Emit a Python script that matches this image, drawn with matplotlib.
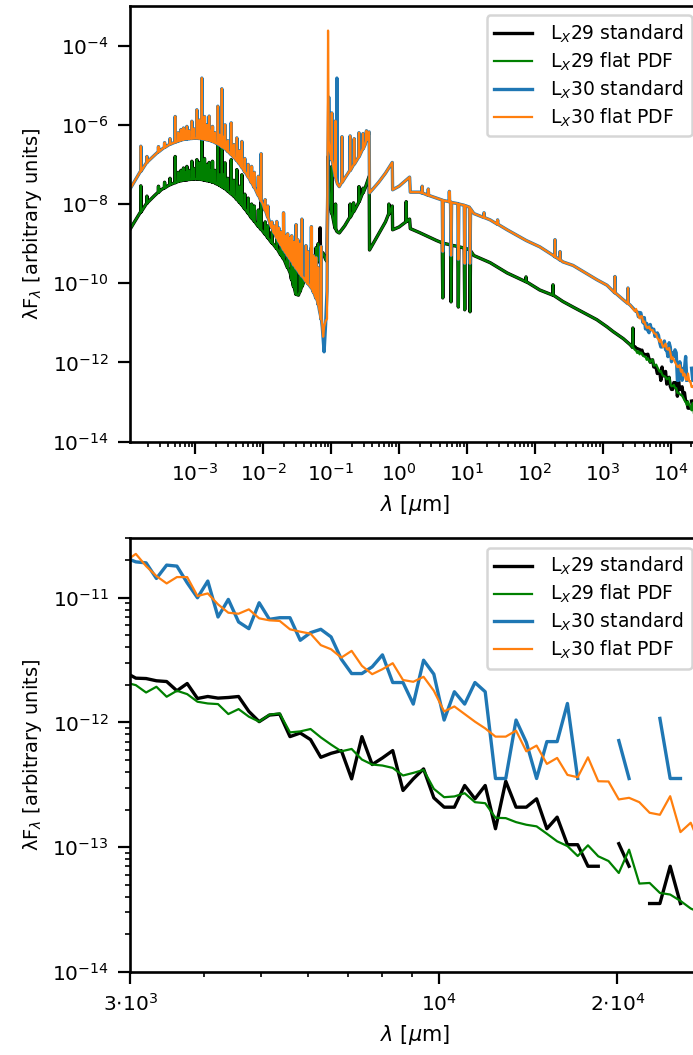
import numpy as np
import matplotlib
matplotlib.use("Agg")
import matplotlib.pyplot as plt
from matplotlib.ticker import (FixedLocator, FixedFormatter,
                               NullLocator, NullFormatter, LogFormatterSciNotation)

# ---------------- data: top panel (log10 lambda [um], log10 lambda F) ----------
top_loglam = [
    -3.959, -3.90, -3.80, -3.70, -3.60, -3.50, -3.40, -3.30, -3.20, -3.10,
    -3.00, -2.90, -2.80, -2.70, -2.60, -2.50, -2.40, -2.30, -2.20, -2.10,
    -2.00, -1.90, -1.80, -1.70, -1.60, -1.52, -1.48, -1.40, -1.30, -1.24,
    -1.20, -1.17, -1.162, -1.155, -1.13, -1.117, -1.103, -1.08, -1.06, -1.045,
    -1.035, -1.02, -1.00, -0.95, -0.92, -0.915, -0.91, -0.88, -0.80, -0.70,
    -0.60, -0.50, -0.44, -0.435, -0.30, -0.20, -0.10, -0.095, 0.00, 0.10,
    0.155, 0.165, 0.30, 0.40, 0.55, 0.635, 0.643, 0.651, 0.757, 0.765,
    0.773, 0.864, 0.872, 0.880, 0.958, 0.966, 0.974, 1.036, 1.044, 1.052,
    1.10, 1.34, 1.59, 1.87, 2.07, 2.27, 2.41, 2.56, 2.91, 3.06,
    3.15, 3.30, 3.40]

top_lx30_flat = [
    -7.62, -7.45, -7.17, -6.93, -6.77, -6.63, -6.52, -6.44, -6.38, -6.35,
    -6.34, -6.35, -6.39, -6.46, -6.56, -6.70, -6.88, -7.10, -7.37, -7.68,
    -8.02, -8.50, -8.85, -9.15, -9.40, -9.60, -9.70, -9.88, -10.10, -10.30,
    -10.45, -10.70, -10.76, -10.82, -11.05, -11.35, -11.10, -10.95, -10.90, -3.62,
    -6.40, -6.65, -6.80, -7.20, -7.42, -7.45, -7.48, -7.56, -7.35, -7.10,
    -6.83, -6.50, -6.18, -7.72, -7.45, -7.22, -6.95, -7.64, -7.55, -7.40,
    -7.32, -7.70, -7.70, -7.76, -7.85, -7.90, -9.20, -7.91, -7.95, -9.30,
    -7.96, -7.99, -9.40, -8.00, -8.03, -9.50, -8.04, -8.08, -9.50, -8.12,
    -8.24, -8.40, -8.65, -8.92, -9.08, -9.30, -9.46, -9.55, -9.91, -10.05,
    -10.20, -10.42, -10.55]

top_lx30_std = [
    -7.62, -7.45, -7.17, -6.93, -6.77, -6.63, -6.52, -6.44, -6.38, -6.35,
    -6.34, -6.35, -6.39, -6.46, -6.56, -6.70, -6.88, -7.10, -7.37, -7.68,
    -8.02, -8.50, -8.85, -9.15, -9.40, -9.60, -9.70, -9.88, -10.10, -10.30,
    -10.45, -10.70, -10.76, -10.82, -11.10, -11.40, -11.73, -11.00, -10.20, -6.75,
    -5.30, -6.65, -6.80, -7.20, -7.42, -4.82, -7.48, -7.56, -7.35, -7.10,
    -6.83, -6.50, -6.18, -7.72, -7.45, -7.22, -6.95, -7.64, -7.55, -7.40,
    -7.32, -7.70, -7.70, -7.76, -7.85, -7.90, -9.20, -7.91, -7.95, -9.30,
    -7.96, -7.99, -9.40, -8.00, -8.03, -9.50, -8.04, -8.08, -9.50, -8.12,
    -8.24, -8.40, -8.65, -8.92, -9.08, -9.30, -9.46, -9.55, -9.91, -10.05,
    -10.20, -10.42, -10.55]

top_lx29_flat = [
    -8.64, -8.47, -8.20, -7.96, -7.79, -7.64, -7.54, -7.46, -7.41, -7.38,
    -7.37, -7.38, -7.42, -7.48, -7.57, -7.70, -7.86, -8.05, -8.28, -8.50,
    -8.70, -8.92, -9.12, -9.38, -9.75, -10.28, -10.30, -9.95, -9.72, -9.58,
    -9.45, -9.33, -9.30, -9.28, -9.24, -9.24, -9.30, -9.40, -9.45, -6.80,
    -7.60, -7.90, -8.15, -8.55, -8.68, -8.69, -8.70, -8.73, -8.55, -8.28,
    -7.98, -7.60, -7.30, -9.16, -8.75, -8.45, -8.05, -8.65, -8.58, -8.45,
    -8.38, -8.62, -8.72, -8.80, -8.92, -8.98, -10.37, -8.99, -9.03, -10.47,
    -9.04, -9.07, -10.60, -9.08, -9.11, -10.67, -9.12, -9.15, -10.72, -9.18,
    -9.30, -9.48, -9.74, -9.96, -10.17, -10.30, -10.46, -10.60, -10.92, -11.10,
    -11.22, -11.40, -11.55]

top_lx29_std = [
    -8.64, -8.47, -8.20, -7.96, -7.79, -7.64, -7.54, -7.46, -7.41, -7.38,
    -7.37, -7.38, -7.42, -7.48, -7.57, -7.70, -7.86, -8.05, -8.28, -8.50,
    -8.70, -8.92, -9.12, -9.38, -9.75, -10.28, -10.30, -9.95, -9.72, -9.58,
    -9.45, -9.35, -8.60, -9.25, -9.22, -9.24, -9.30, -9.40, -9.45, -6.80,
    -7.60, -7.90, -8.15, -8.55, -8.68, -8.69, -8.70, -8.73, -8.55, -8.28,
    -7.98, -7.60, -7.30, -9.16, -8.75, -8.45, -8.05, -8.65, -8.58, -8.45,
    -8.38, -8.62, -8.72, -8.80, -8.92, -8.98, -10.37, -8.99, -9.03, -10.47,
    -9.04, -9.07, -10.60, -9.08, -9.11, -10.67, -9.12, -9.15, -10.72, -9.18,
    -9.30, -9.48, -9.74, -9.96, -10.17, -10.30, -10.46, -10.60, -10.92, -11.10,
    -11.22, -11.40, -11.55]

# emission lines (log10 lambda, log10 base, log10 peak)
lines30_loglam = [
    -3.80, -3.71, -3.54, -3.45, -3.37, -3.294, -3.25, -3.21, -3.172, -3.145,
    -3.122, -3.09, -3.049, -3.02, -2.975, -2.94, -2.902, -2.88, -2.863, -2.828,
    -2.794, -2.77, -2.745, -2.71, -2.667, -2.64, -2.608, -2.58, -2.56, -2.52,
    -2.47, -2.43, -2.387, -2.35, -2.313, -2.27, -2.22, -2.17, -2.13, -2.07,
    -2.03, -1.97, -1.93, -1.87, -1.84, -1.80, -1.77, -1.74, -1.70, -1.67,
    -1.64, -1.61, -1.58, -1.55, -1.515, -1.49, -1.46, -1.43, -1.37, -1.34,
    -1.29, -1.26, -1.22, -1.19, -1.147, -0.99, -0.935, -0.84, -0.72, -0.66,
    -0.59, -0.53, -0.48, 0.34, 0.43, 0.74, 1.25, 1.45, 2.294, 2.368,
    3.176, 3.368]
lines30_base = [
    -7.17, -6.95, -6.68, -6.57, -6.49, -6.44, -6.41, -6.39, -6.37, -6.36,
    -6.36, -6.35, -6.345, -6.34, -6.34, -6.345, -6.35, -6.36, -6.365, -6.375,
    -6.39, -6.40, -6.42, -6.44, -6.48, -6.51, -6.55, -6.58, -6.60, -6.67,
    -6.75, -6.82, -6.90, -6.98, -7.07, -7.18, -7.31, -7.46, -7.58, -7.78,
    -7.92, -8.16, -8.33, -8.60, -8.72, -8.85, -8.94, -9.03, -9.15, -9.22,
    -9.30, -9.37, -9.44, -9.54, -9.62, -9.67, -9.75, -9.82, -9.95, -10.01,
    -10.11, -10.22, -10.38, -10.53, -10.90, -6.88, -7.31, -7.45, -7.15, -6.99,
    -6.80, -6.60, -6.39, -7.72, -7.78, -7.94, -8.34, -8.51, -9.33, -9.41,
    -10.24, -10.51]
lines30_peak = [
    -6.54, -6.80, -6.55, -6.45, -6.35, -5.79, -6.20, -6.12, -6.08, -6.15,
    -6.04, -6.15, -5.91, -6.10, -5.62, -5.88, -4.82, -6.05, -5.79, -6.00,
    -5.78, -6.15, -6.04, -6.20, -5.53, -6.25, -5.09, -6.30, -6.00, -6.40,
    -5.95, -6.50, -6.33, -6.65, -6.42, -6.85, -7.00, -7.05, -7.20, -7.30,
    -6.73, -7.89, -8.05, -8.45, -8.55, -8.44, -8.60, -8.70, -8.22, -8.80,
    -8.75, -8.85, -8.80, -8.95, -8.52, -8.90, -9.00, -8.38, -9.05, -9.20,
    -8.57, -9.30, -9.35, -9.60, -9.07, -5.70, -5.90, -6.30, -6.28, -6.35,
    -6.20, -6.22, -6.15, -7.55, -7.62, -7.68, -8.22, -8.40, -8.90, -9.20,
    -9.83, -10.12]

lines29_loglam = [
    -3.80, -3.71, -3.54, -3.45, -3.37, -3.294, -3.25, -3.21, -3.172, -3.145,
    -3.122, -3.09, -3.049, -3.02, -2.975, -2.94, -2.902, -2.88, -2.863, -2.828,
    -2.794, -2.77, -2.745, -2.71, -2.667, -2.64, -2.608, -2.58, -2.56, -2.52,
    -2.47, -2.43, -2.387, -2.35, -2.313, -2.27, -2.22, -2.17, -2.13, -2.07,
    -2.03, -1.97, -1.93, -1.87, -1.80, -1.74, -1.70, -1.64, -1.58, -1.55,
    -1.515, -1.46, -1.43, -1.37, -1.29, -1.22, -1.19, -0.99, -0.935, -0.72,
    -0.67, -0.59, -0.53, -0.15, 0.105, 1.868, 2.265, 3.44]
lines29_base = [
    -8.20, -7.98, -7.70, -7.59, -7.51, -7.46, -7.43, -7.41, -7.40, -7.39,
    -7.39, -7.38, -7.375, -7.37, -7.37, -7.375, -7.38, -7.39, -7.395, -7.41,
    -7.42, -7.43, -7.45, -7.46, -7.50, -7.53, -7.56, -7.59, -7.61, -7.67,
    -7.74, -7.80, -7.88, -7.95, -8.02, -8.12, -8.23, -8.35, -8.43, -8.56,
    -8.64, -8.76, -8.85, -8.98, -9.12, -9.28, -9.38, -9.60, -9.90, -10.08,
    -10.28, -10.21, -10.08, -9.88, -9.70, -9.52, -9.41, -8.23, -8.62, -8.33,
    -8.19, -7.94, -7.71, -8.25, -8.44, -9.96, -10.30, -11.62]
lines29_peak = [
    -7.54, -7.80, -7.55, -7.45, -7.35, -6.80, -7.20, -7.15, -7.09, -7.20,
    -7.05, -7.15, -6.92, -7.10, -6.88, -6.95, -6.38, -7.10, -6.85, -7.00,
    -6.95, -7.15, -6.92, -7.15, -6.53, -7.25, -6.50, -7.25, -6.96, -7.35,
    -6.88, -7.40, -7.13, -7.55, -7.26, -7.75, -7.85, -8.00, -8.05, -8.15,
    -7.89, -8.45, -8.55, -8.70, -8.80, -8.85, -8.75, -9.10, -9.20, -9.30,
    -9.20, -9.40, -9.20, -9.30, -9.10, -9.10, -9.00, -7.05, -8.00, -8.00,
    -7.97, -7.56, -7.60, -8.00, -7.94, -9.84, -10.04, -11.13]

# ---------------- data: bottom panel (lambda [um], log10 lambda F) -------------
bot_lam = [2949, 3069, 3194, 3325, 3460, 3601, 3748, 3901, 4061, 4226,
           4399, 4578, 4765, 4960, 5162, 5373, 5592, 5820, 6058, 6305,
           6562, 6830, 7109, 7399, 7701, 8015, 8342, 8683, 9037, 9406,
           9790, 10190, 10605, 11038, 11489, 11957, 12445, 12953, 13482, 14032,
           14605, 15201, 15821, 16467, 17139, 17838, 18566, 19324, 20112, 20933,
           21787, 22677, 23602, 24565, 25568, 26611, 27697]
nan = np.nan
bot_lx29_std = [
    -11.60, -11.645, -11.648, -11.666, -11.672, -11.746, -11.688, -11.808, -11.792, -11.805,
    -11.80, -11.792, -11.912, -11.994, -11.941, -11.933, -12.114, -12.085, -12.138, -12.28,
    -12.248, -12.226, -12.453, -12.114, -12.338, -12.285, -12.226, -12.546, -12.453, -12.373,
    -12.605, -12.68, -12.68, -12.506, -12.613, -12.506, -12.853, -12.472, -12.68, -12.68,
    -12.613, -12.853, -12.76, -12.981, -12.981, -13.154, -13.154, nan, -12.973, -13.154,
    nan, -13.453, -13.453, -13.154, -13.453, nan, nan]
bot_lx29_flat = [
    -11.68, -11.701, -11.76, -11.714, -11.794, -11.746, -11.773, -11.834, -11.848, -11.853,
    -11.933, -11.893, -11.954, -11.994, -11.938, -11.928, -12.08, -12.072, -12.053, -12.12,
    -12.178, -12.232, -12.213, -12.298, -12.338, -12.346, -12.365, -12.426, -12.405, -12.381,
    -12.533, -12.60, -12.594, -12.568, -12.64, -12.648, -12.765, -12.768, -12.80, -12.821,
    -12.834, -12.893, -12.954, -12.992, -13.072, -12.986, -13.074, -13.112, -13.208, -13.021,
    -13.293, -13.288, -13.368, -13.381, -13.432, -13.493, -13.53]
bot_lx30_std = [
    -10.68, -10.712, -10.72, -10.845, -10.738, -10.746, -10.88, -11.00, -10.866, -11.154,
    -11.013, -11.194, -11.248, -11.04, -11.173, -11.16, -11.16, -11.341, -11.28, -11.253,
    -11.314, -11.493, -11.608, -11.608, -11.554, -11.458, -11.68, -11.68, -11.853, -11.501,
    -11.613, -11.981, -11.754, -11.853, -11.68, -11.754, -12.45, -12.45, -11.981, -12.16,
    -12.45, -12.154, -12.154, -11.848, -12.45, nan, nan, nan, -12.146, -12.45,
    nan, nan, -11.968, -12.45, -12.45, nan, nan]
bot_lx30_flat = [
    -10.706, -10.648, -10.746, -10.826, -10.885, -10.834, -10.834, -10.986, -10.965, -11.053,
    -11.12, -11.128, -11.093, -11.165, -11.181, -11.186, -11.253, -11.272, -11.288, -11.38,
    -11.413, -11.48, -11.426, -11.546, -11.613, -11.573, -11.525, -11.66, -11.674, -11.634,
    -11.746, -11.912, -11.872, -11.933, -11.994, -12.048, -12.114, -12.114, -12.066, -12.232,
    -12.186, -12.333, -12.285, -12.421, -12.44, -12.28, -12.472, -12.474, -12.618, -12.605,
    -12.64, -12.725, -12.741, -12.592, -12.88, -12.805, -13.0]

labels = ["L$_X$29 standard", "L$_X$29 flat PDF",
          "L$_X$30 standard", "L$_X$30 flat PDF"]
colors = ["black", "green", "#1f77b4", "#ff7f0e"]
widths = [2.4, 1.6, 2.4, 1.6]

top_xticks = [1e-3, 1e-2, 1e-1, 1e0, 1e1, 1e2, 1e3, 1e4]
top_yticks = [1e-14, 1e-12, 1e-10, 1e-8, 1e-6, 1e-4]
bot_yticks = [1e-14, 1e-13, 1e-12, 1e-11]
bot_xticks = [3000, 10000, 20000]
bot_xticklabels = [r"$3{\cdot}10^{3}$", r"$10^{4}$", r"$2{\cdot}10^{4}$"]
bot_xminor = [4000, 5000, 6000, 7000, 8000, 9000]


def build(cont_x, cont_y, lx, lb, lp, bx, by, dw=0.004):
    x = list(cont_x)
    y = list(cont_y)
    for l, b, p in zip(lx, lb, lp):
        x += [l - dw, l, l + dw]
        y += [b, p, b]
    lam = np.concatenate([10.0 ** np.array(x), np.asarray(bx, float)])
    flx = np.concatenate([10.0 ** np.array(y), 10.0 ** np.asarray(by, float)])
    o = np.argsort(lam, kind="stable")
    return lam[o], flx[o]


def minor_in(lo, hi):
    out = []
    for e in range(int(np.floor(np.log10(lo))), int(np.ceil(np.log10(hi))) + 1):
        for m in range(2, 10):
            v = m * 10.0 ** e
            if lo <= v <= hi:
                out.append(v)
    return out


plt.rcParams.update({
    "font.family": ["DejaVu Sans"],
    "font.size": 14,
    "xtick.labelsize": 14.5,
    "ytick.labelsize": 14.5,
    "legend.fontsize": 13.5,
    "axes.linewidth": 1.9,
    "xtick.major.size": 8.3, "ytick.major.size": 8.3,
    "xtick.minor.size": 3.9, "ytick.minor.size": 3.9,
    "xtick.major.width": 1.6, "ytick.major.width": 1.6,
    "xtick.minor.width": 1.2, "ytick.minor.width": 1.2,
    "xtick.major.pad": 7.0, "ytick.major.pad": 7.0,
    "axes.labelpad": 6,
})

fig = plt.figure(figsize=(6.93, 10.55), dpi=100)
W, H = 693.0, 1055.0
ax1 = fig.add_axes([130 / W, 1 - 441.7 / H, 571 / W, 435.7 / H])
ax2 = fig.add_axes([130 / W, 1 - 971.7 / H, 571 / W, 433.4 / H])

top_series = [
    build(top_loglam, top_lx29_std, lines29_loglam, lines29_base, lines29_peak, bot_lam, bot_lx29_std),
    build(top_loglam, top_lx29_flat, lines29_loglam, lines29_base, lines29_peak, bot_lam, bot_lx29_flat),
    build(top_loglam, top_lx30_std, lines30_loglam, lines30_base, lines30_peak, bot_lam, bot_lx30_std),
    build(top_loglam, top_lx30_flat, lines30_loglam, lines30_base, lines30_peak, bot_lam, bot_lx30_flat),
]
bot_series = [bot_lx29_std, bot_lx29_flat, bot_lx30_std, bot_lx30_flat]

for (lam, flx), lab, c, lw in zip(top_series, labels, colors, widths):
    ax1.plot(lam, flx, color=c, lw=lw, label=lab)
for f, lab, c, lw in zip(bot_series, labels, colors, widths):
    ax2.plot(bot_lam, 10.0 ** np.asarray(f, float), color=c, lw=lw, label=lab)

for ax in (ax1, ax2):
    ax.set_xscale("log")
    ax.set_yscale("log")
    ax.set_xlabel(r"$\lambda$ [$\mu$m]", fontsize=15)
    ax.set_ylabel("λF$_\\lambda$ [arbitrary units]")
    leg = ax.legend(loc="upper right", labelspacing=0.3, handletextpad=1.0)
    leg.get_frame().set_linewidth(1.8)

top_xlim = (10 ** -3.959, 27697)
ax1.set_xlim(*top_xlim)
ax1.set_ylim(1e-14, 1e-3)
ax1.xaxis.set_major_locator(FixedLocator(top_xticks))
ax1.xaxis.set_major_formatter(LogFormatterSciNotation())
ax1.xaxis.set_minor_locator(FixedLocator(minor_in(*top_xlim)))
ax1.xaxis.set_minor_formatter(NullFormatter())
ax1.yaxis.set_major_locator(FixedLocator(top_yticks))
ax1.yaxis.set_major_formatter(LogFormatterSciNotation())
ax1.yaxis.set_minor_locator(NullLocator())

ax2.set_xlim(3000, 27697)
ax2.set_ylim(1e-14, 3e-11)
ax2.xaxis.set_major_locator(FixedLocator(bot_xticks))
ax2.xaxis.set_major_formatter(FixedFormatter(bot_xticklabels))
ax2.xaxis.set_minor_locator(FixedLocator(bot_xminor))
ax2.xaxis.set_minor_formatter(NullFormatter())
ax2.yaxis.set_major_locator(FixedLocator(bot_yticks))
ax2.yaxis.set_major_formatter(LogFormatterSciNotation())
ax2.yaxis.set_minor_locator(FixedLocator(minor_in(1e-14, 3e-11)))
ax2.yaxis.set_minor_formatter(NullFormatter())

fig.savefig("out.png", dpi=100)
